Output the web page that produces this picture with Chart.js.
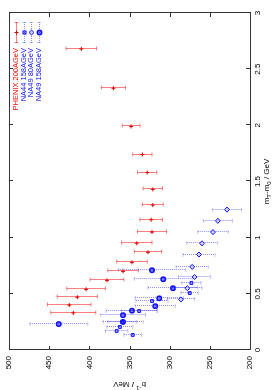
<!DOCTYPE html>
<html>
<head>
<meta charset="utf-8">
<script src="https://cdn.jsdelivr.net/npm/chart.js@4/dist/chart.umd.min.js"></script>
<style>
  html, body { margin: 0; padding: 0; background: #fff; overflow: hidden; }
  /* the plot is drawn landscape and turned a quarter turn to the left */
  #wrap { position: absolute; left: 0; top: 0; width: 390px; height: 273px;
          transform-origin: 0 0; transform: translateY(390px) rotate(-90deg); }
</style>
</head>
<body>
<div id="wrap"><canvas id="c" width="390" height="273"></canvas></div>
<script>
// m_T - m_0 (GeV), inverse slope b^-1 (MeV), error (MeV)
const phenixMt = [2.68, 2.33, 1.99, 1.74, 1.58, 1.43, 1.29, 1.16, 1.05, 0.95, 0.87, 0.78, 0.70, 0.62, 0.54, 0.47, 0.40, 0.33];
const phenixB = [410, 370, 348, 334, 328, 321, 321, 323, 322, 341, 327, 347, 358, 378, 404, 415, 425, 420];
const phenixErr = [19, 15, 11, 12, 12, 12, 13, 14, 18, 19, 17, 19, 19, 21, 24, 25, 27, 28];

const na44Mt = [0.134, 0.169, 0.205, 0.249, 0.347, 0.436, 0.507, 0.596];
const na44B = [346, 366, 362, 359, 338, 322, 275, 273];
const na44Err = [11, 14, 16, 18, 22, 20, 11, 12];

const na49lowMt = [0.45, 0.55, 0.65, 0.74, 0.85, 0.95, 1.05, 1.15, 1.25];
const na49lowB = [286, 278, 269, 272, 263.5, 259.7, 246, 240, 228.6];
const na49lowErr = [17, 18, 20, 20, 20, 19, 19, 18, 18];

const na49Mt = [0.231, 0.25, 0.31, 0.35, 0.39, 0.46, 0.55, 0.63, 0.71];
const na49B = [438, 358, 358, 347, 318, 313, 296, 308, 322];
const na49Err = [36, 25, 28, 32, 25, 30, 31, 36, 42];

const xTicks = [0, 0.5, 1, 1.5, 2, 2.5, 3];
const yTicks = [200, 250, 300, 350, 400, 450, 500];

const FONT = '"Liberation Sans", Arial, sans-serif';
const RED = "#ff0000";
const BLUE = "#1010ff";
const RED_BAR = "rgba(255, 0, 0, 0.5)";
const BLUE_BAR = "rgba(0, 0, 255, 0.45)";
const FRAME = "#333";

function pts(xs, ys) {
  return xs.map((x, i) => ({ x, y: ys[i] }));
}

function drawMarker(ctx, style, x, y) {
  ctx.save();
  ctx.lineWidth = 1;
  if (style === "cross") {
    ctx.strokeStyle = "#e00000";
    ctx.beginPath();
    ctx.moveTo(x - 2, y); ctx.lineTo(x + 2, y);
    ctx.moveTo(x, y - 2); ctx.lineTo(x, y + 2);
    ctx.stroke();
  } else if (style === "rect") {
    ctx.strokeStyle = BLUE;
    ctx.fillStyle = "rgba(0,0,255,0.35)";
    ctx.fillRect(x - 1.5, y - 1.5, 3, 3);
    ctx.strokeRect(x - 1.5, y - 1.5, 3, 3);
  } else if (style === "rectRot") {
    ctx.strokeStyle = BLUE;
    ctx.fillStyle = "rgba(200,200,255,0.8)";
    ctx.beginPath();
    ctx.moveTo(x, y - 2.5); ctx.lineTo(x + 2.5, y); ctx.lineTo(x, y + 2.5); ctx.lineTo(x - 2.5, y);
    ctx.closePath();
    ctx.fill(); ctx.stroke();
  } else {
    ctx.strokeStyle = BLUE;
    ctx.fillStyle = "rgba(0,0,255,0.5)";
    ctx.lineWidth = 1.5;
    ctx.beginPath();
    ctx.arc(x, y, 2.2, 0, Math.PI * 2);
    ctx.fill(); ctx.stroke();
  }
  ctx.restore();
}

// text with sub/superscripts: parts = [[text, shift]] shift 0 normal, 1 sub, -1 sup
function drawRich(ctx, parts, x, y, size) {
  const small = size * 0.75;
  let w = 0;
  parts.forEach(([t, s]) => {
    ctx.font = `${s ? small : size}px ${FONT}`;
    w += ctx.measureText(t).width;
  });
  let cx = x - w / 2;
  parts.forEach(([t, s]) => {
    ctx.font = `${s ? small : size}px ${FONT}`;
    ctx.fillText(t, cx, y + (s === 1 ? size * 0.3 : s === -1 ? -size * 0.4 : 0));
    cx += ctx.measureText(t).width;
  });
}

const errorBarsPlugin = {
  id: "errorBars",
  beforeDatasetsDraw(chart) {
    const { ctx } = chart;
    const xs = chart.scales.x;
    const ys = chart.scales.y;
    chart.data.datasets.forEach((ds) => {
      ctx.save();
      ctx.strokeStyle = ds.barColor;
      ctx.lineWidth = 1;
      ctx.setLineDash(ds.barDash);
      ds.data.forEach((p, i) => {
        const px = Math.round(xs.getPixelForValue(p.x)) + 0.5;
        const top = ys.getPixelForValue(p.y + ds.err[i]);
        const bot = ys.getPixelForValue(p.y - ds.err[i]);
        ctx.beginPath();
        ctx.moveTo(px, top); ctx.lineTo(px, bot);
        ctx.moveTo(px - 2, top); ctx.lineTo(px + 2, top);
        ctx.moveTo(px - 2, bot); ctx.lineTo(px + 2, bot);
        ctx.stroke();
      });
      ctx.restore();
    });
  },
};

const framePlugin = {
  id: "gnuFrame",
  afterDraw(chart) {
    const { ctx, chartArea: a } = chart;
    const xs = chart.scales.x;
    const ys = chart.scales.y;
    ctx.save();
    ctx.strokeStyle = FRAME;
    ctx.lineWidth = 1;
    ctx.strokeRect(a.left + 0.5, a.top + 0.5, a.right - a.left, a.bottom - a.top);

    ctx.beginPath();
    xTicks.forEach((v) => {
      const px = Math.round(xs.getPixelForValue(v)) + 0.5;
      ctx.moveTo(px, a.bottom); ctx.lineTo(px, a.bottom - 4);
      ctx.moveTo(px, a.top); ctx.lineTo(px, a.top + 4);
    });
    yTicks.forEach((v) => {
      const py = Math.round(ys.getPixelForValue(v)) + 0.5;
      ctx.moveTo(a.left, py); ctx.lineTo(a.left + 4, py);
      ctx.moveTo(a.right, py); ctx.lineTo(a.right - 4, py);
    });
    ctx.stroke();

    ctx.fillStyle = "#000";
    ctx.font = `8px ${FONT}`;
    ctx.textBaseline = "middle";
    ctx.textAlign = "center";
    xTicks.forEach((v) => {
      ctx.fillText(String(v), xs.getPixelForValue(v), a.bottom + 8);
    });
    ctx.textAlign = "right";
    yTicks.forEach((v) => {
      ctx.fillText(String(v), a.left - 6, ys.getPixelForValue(v));
    });

    ctx.textAlign = "left";
    drawRich(ctx, [["m", 0], ["T", 1], ["-m", 0], ["0", 1], [" / GeV", 0]],
      (a.left + a.right) / 2, a.bottom + 17, 8);

    ctx.save();
    ctx.translate(6, (a.top + a.bottom) / 2);
    ctx.rotate(-Math.PI / 2);
    drawRich(ctx, [["b", 0], ["-1", -1], [" / MeV", 0]], 0, 0, 8);
    ctx.restore();

    // key, top right
    const rows = [
      ["PHENIX 200AGeV", RED, RED_BAR, [], "cross"],
      ["NA44 158AGeV", BLUE, BLUE_BAR, [1, 1], "rect"],
      ["NA49 80AGeV", BLUE, BLUE_BAR, [1, 1], "rectRot"],
      ["NA49 158AGeV", BLUE, BLUE_BAR, [1, 1], "circle"],
    ];
    const textRight = a.right - 35;
    const s0 = a.right - 30;
    const s1 = a.right - 9;
    rows.forEach(([label, col, bar, dash, style], i) => {
      const y = a.top + 7 + i * 7.5;
      ctx.font = `7.5px ${FONT}`;
      ctx.textAlign = "right";
      ctx.fillStyle = col;
      ctx.fillText(label, textRight, y);
      ctx.save();
      ctx.strokeStyle = bar;
      ctx.setLineDash(dash);
      const ly = Math.round(y) + 0.5;
      ctx.beginPath();
      ctx.moveTo(s0, ly); ctx.lineTo(s1, ly);
      ctx.moveTo(s0 + 0.5, ly - 2); ctx.lineTo(s0 + 0.5, ly + 2);
      ctx.moveTo(s1 - 0.5, ly - 2); ctx.lineTo(s1 - 0.5, ly + 2);
      ctx.stroke();
      ctx.restore();
      drawMarker(ctx, style, (s0 + s1) / 2, ly);
    });
    ctx.restore();
  },
};

const hiddenAxis = {
  type: "linear",
  grid: { display: false, drawTicks: false },
  border: { display: false },
  ticks: { display: false },
};

new Chart(document.getElementById("c"), {
  type: "scatter",
  data: {
    datasets: [
      {
        label: "PHENIX 200AGeV",
        data: pts(phenixMt, phenixB),
        err: phenixErr,
        barColor: RED_BAR,
        barDash: [],
        pointStyle: "cross",
        pointRadius: 2,
        borderColor: "#e00000",
        borderWidth: 1,
      },
      {
        label: "NA44 158AGeV",
        data: pts(na44Mt, na44B),
        err: na44Err,
        barColor: BLUE_BAR,
        barDash: [1, 1],
        pointStyle: "rect",
        pointRadius: 2,
        backgroundColor: "rgba(0,0,255,0.35)",
        borderColor: BLUE,
        borderWidth: 1,
      },
      {
        label: "NA49 80AGeV",
        data: pts(na49lowMt, na49lowB),
        err: na49lowErr,
        barColor: BLUE_BAR,
        barDash: [1, 1],
        pointStyle: "rectRot",
        pointRadius: 2.5,
        backgroundColor: "rgba(200,200,255,0.8)",
        borderColor: BLUE,
        borderWidth: 1,
      },
      {
        label: "NA49 158AGeV",
        data: pts(na49Mt, na49B),
        err: na49Err,
        barColor: BLUE_BAR,
        barDash: [1, 1],
        pointStyle: "circle",
        pointRadius: 2.2,
        backgroundColor: "rgba(0,0,255,0.5)",
        borderColor: BLUE,
        borderWidth: 1.5,
      },
    ],
  },
  plugins: [errorBarsPlugin, framePlugin],
  options: {
    responsive: false,
    animation: false,
    devicePixelRatio: 1,
    layout: { padding: { left: 40, right: 13, top: 9, bottom: 23 } },
    plugins: { legend: { display: false }, tooltip: { enabled: false } },
    scales: {
      x: { ...hiddenAxis, min: 0, max: 3 },
      y: { ...hiddenAxis, min: 200, max: 500 },
    },
  },
});
</script>
</body>
</html>
